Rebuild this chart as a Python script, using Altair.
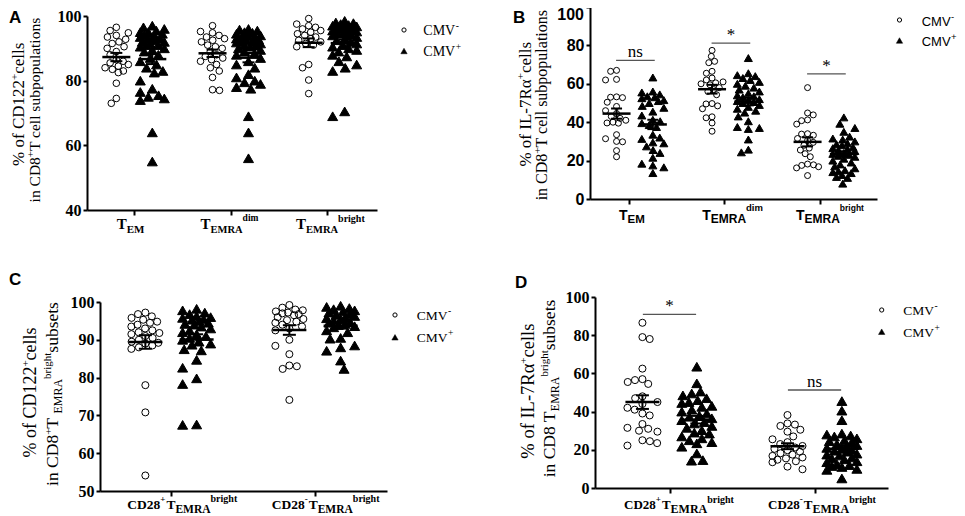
import math
import altair as alt
import pandas as pd

# ------------------------------------------------------------------ data
CMV = ["CMV⁻", "CMV⁺"]

# Panel A: % of CD122+ cells in CD8+ T cell subpopulations (T_EM, T_EMRA dim, T_EMRA bright)
A_TEM_NEG = [96.5, 95.5, 94.8, 94, 93.5, 92.8, 92, 91.5, 90.5, 90, 89, 88, 86.5, 86, 85.5, 85, 84.5, 84, 83.5, 83, 82.5, 79.2, 74.5, 73]
A_TEM_POS = [97, 96.5, 96, 95.5, 95, 95, 94.5, 94, 94, 93.5, 93, 93, 92.5, 92, 92, 91.5, 91, 91, 90.5, 90, 89.5, 89, 88, 87, 86, 85, 84, 83, 82.5, 80, 77.5, 76.5, 75.5, 75, 74.5, 74, 64, 55]
A_DIM_NEG = [97, 95.2, 94.8, 94, 93.5, 93, 92.5, 92, 91, 90.5, 90, 89, 88, 87.5, 87, 86.5, 86, 85, 84, 83, 81, 77.2, 77]
A_DIM_POS = [96, 95.8, 95.5, 95, 94.8, 94.5, 94, 93.8, 93.5, 93.2, 93, 92.8, 92.5, 92.2, 92, 91.8, 91.5, 91, 90.8, 90.5, 90, 89.5, 89, 88.5, 88, 87, 86, 85, 84, 82, 81, 80, 79.5, 79, 78, 77.5, 69, 64, 56]
A_BRI_NEG = [99.2, 97.5, 97, 96.5, 96, 95.5, 95, 94.5, 94, 93.5, 93, 92.5, 92, 91.5, 91, 90.5, 85, 84, 80.2, 76]
A_BRI_POS = [98.5, 98, 97.8, 97.5, 97.2, 97, 96.8, 96.6, 96.5, 96.2, 96, 95.8, 95.5, 95.2, 95, 94.5, 94.2, 94, 93.5, 93, 92.5, 92, 91.5, 91, 90.5, 90, 89.5, 89, 88, 87.5, 86, 85, 84, 83, 70.5, 69]
A_YTICKS = [40, 60, 80, 100]

# Panel B: % of IL-7Ra+ cells in CD8+ T cell subpopulations
B_TEM_NEG = [67, 66.5, 62.3, 62, 53.2, 53, 52.8, 50.4, 48.2, 46, 44.5, 43, 42, 41, 40, 39.6, 39.5, 33.5, 31.4, 30, 29.8, 25.2, 22]
B_TEM_POS = [63.3, 56, 55.5, 54.5, 53.5, 53, 52.5, 51.5, 51, 50, 48.5, 47.5, 45.5, 43.5, 41.3, 40.5, 39.5, 38.5, 37.5, 33.5, 32, 31.3, 29.5, 29, 27.4, 25.5, 24, 21.5, 18.4, 17.5, 16.5, 13.5]
B_DIM_NEG = [77.4, 74.3, 71.7, 71, 66.5, 65.5, 63, 62, 61, 60.5, 60, 59.5, 58, 57, 56, 54.3, 49.7, 49.5, 48.5, 47, 42.8, 42.3, 39.6, 35.3]
B_DIM_POS = [73.4, 65.5, 64.5, 64, 63, 62, 61, 60, 59, 58, 57, 56, 55, 54, 53.5, 53, 52, 51.5, 51, 50.5, 50, 49, 48, 47, 46, 45, 43, 40.5, 37.5, 37, 36.5, 31, 25.7, 24.3]
B_BRI_NEG = [58, 44.8, 43.8, 41.2, 40.8, 39, 34, 33.8, 33.2, 31.5, 30.5, 29.5, 28, 26.5, 25.5, 23.6, 22, 18.2, 17.8, 17.5, 16.8, 16.2, 12.2]
B_BRI_POS = [42.5, 39.2, 37, 35, 32.5, 31.5, 31, 30, 29, 28.5, 28, 27, 26.5, 26, 25.5, 25, 24, 23.5, 23, 22.5, 22, 21, 20, 19, 18, 17, 16, 15, 14.5, 14, 13.5, 12.5, 11.5, 11, 8]
B_YTICKS = [0, 20, 40, 60, 80, 100]
B_SIG_LEVEL = [72.2, 81.2, 65.2]
B_SIG_TEXT = ["ns", "*", "*"]

# Panel C: % of CD122+ cells in CD8+ T_EMRA bright subsets (CD28+, CD28-)
C_P_NEG = [97.2, 96.8, 96.2, 95.8, 95.3, 94.8, 94.5, 94, 93.5, 93, 92.5, 92, 91.8, 91.5, 91, 90.5, 90, 89.5, 89.2, 89, 88.5, 88, 87.6, 78, 70.8, 54.1]
C_P_POS = [98.2, 97.8, 97.2, 96.8, 96.3, 96, 95.8, 95.5, 95.3, 95, 94.5, 94.2, 94, 93.5, 93, 92.5, 92, 91.5, 91, 90.5, 90, 89.5, 89, 88.7, 87.5, 87.2, 84.7, 82.6, 79.8, 78.3, 67.6, 67.5]
C_M_NEG = [99.2, 98.5, 98, 97.8, 97.5, 97.2, 97, 96.8, 96.5, 96, 95.5, 95.2, 94.8, 94.5, 94, 93.5, 93, 92.5, 90, 88.4, 86.2, 83.2, 83, 82.3, 74.1]
C_M_POS = [99, 98.7, 98.4, 98.1, 97.8, 97.5, 97.2, 96.9, 96.6, 96.3, 96, 95.7, 95.4, 95.1, 94.8, 94.5, 94.2, 93.9, 93.6, 93.3, 92.5, 92, 90.5, 90.3, 88.5, 88, 87.1, 84.5, 82.3]
C_YTICKS = [50, 60, 70, 80, 90, 100]

# Panel D: % of IL-7Ra+ cells in CD8 T_EMRA bright subsets
D_P_NEG = [86.5, 79, 78, 62.5, 57, 56.5, 55.5, 54.5, 48, 47, 45, 44, 42, 41, 39, 38, 33.5, 31.5, 31, 30, 29.5, 25, 24.5, 23.5, 22.2]
D_P_POS = [63.5, 54.8, 50.5, 49.5, 48.5, 47, 46, 45, 44.5, 43, 42.5, 41, 40, 39, 38, 37.3, 36.5, 35.5, 34.5, 33.8, 32.5, 31.5, 30.3, 29, 28.5, 27, 26, 25, 24, 23.4, 21.6, 18.1, 14.6, 14.3]
D_M_NEG = [38.2, 33.8, 33.2, 32.5, 30.5, 29.5, 27, 25.5, 24, 23, 22, 21.2, 20.5, 19.8, 19, 18.2, 17.5, 16.8, 16, 15.5, 14.8, 14, 13.5, 11.2, 9.8]
D_M_POS = [45.5, 40.5, 35.5, 28.5, 28, 27.5, 27, 26, 25, 24.5, 24, 23, 22.5, 22, 21, 20.5, 20, 19.5, 19, 18, 17.5, 17, 16, 15.5, 15, 14, 13.5, 12.5, 12, 11.5, 11, 10, 9.5, 5]
D_YTICKS = [0, 20, 40, 60, 80, 100]
D_SIG_LEVEL = [90.9, 51.3]
D_SIG_TEXT = ["*", "ns"]

# ------------------------------------------------------------------ fonts / text helpers
SERIF = "Liberation Serif"
SANS = "Liberation Sans"
FONTSPEC = {"r": (SERIF, "normal"), "b": (SERIF, "bold"), "sb": (SANS, "bold"), "sr": (SANS, "normal")}
WID = {
    "r": {' ': 250, '%': 833, 'o': 500, 'f': 333, 'C': 667, 'D': 722, '1': 500, '2': 500, '8': 500, '7': 500,
          '+': 564, '-': 333, 'c': 444, 'e': 444, 'l': 278, 's': 389, 'i': 278, 'n': 500, 'T': 611, 'E': 611,
          'M': 889, 'R': 667, 'A': 722, 'b': 500, 'r': 333, 'g': 500, 'h': 500, 't': 278, 'u': 500, 'p': 500,
          'a': 444, 'I': 333, 'L': 611, 'V': 722, 'α': 520},
    "b": {' ': 250, 'C': 722, 'D': 722, '2': 500, '8': 500, '+': 570, '-': 333, 'T': 667, 'E': 667, 'M': 944,
          'R': 722, 'A': 722, 'b': 556, 'r': 444, 'i': 278, 'g': 500, 'h': 556, 't': 333, 'd': 556, 'm': 833},
    "sb": {' ': 278, 'T': 611, 'E': 667, 'M': 833, 'R': 722, 'A': 722, 'd': 611, 'i': 278, 'm': 889, 'b': 611,
           'r': 389, 'g': 611, 'h': 611, 't': 333},
    "sr": {'C': 722, 'M': 833, 'V': 667, '+': 584, '-': 333},
}

OX, OY = 8, 8          # page margin: view origin on the page
VW, VH = 949, 508      # whole drawing area


def tw(s, fk, size):
    return sum(WID[fk].get(c, 500) for c in s) * size / 1000.0


ONE = pd.DataFrame({"k": [0]})


def swarm(vals, ppu, d, cap):
    order = sorted(range(len(vals)), key=lambda i: -vals[i])
    placed = []
    out = [0.0] * len(vals)
    for n, i in enumerate(order):
        y = vals[i] * ppu
        near = [(px, py) for px, py in placed if abs(py - y) < d]
        cands = [0.0]
        for px, py in near:
            dx = math.sqrt(max(d * d - (py - y) ** 2, 0))
            cands += [px + dx, px - dx]
        sgn = 1 if n % 2 else -1
        cands = sorted(set(round(c, 3) for c in cands), key=lambda c: (abs(c), sgn * c))
        best = None
        for c in cands:
            if abs(c) > cap:
                continue
            if all((c - px) ** 2 + (y - py) ** 2 >= d * d - 1e-3 for px, py in near):
                best = c
                break
        if best is None:
            grid = [cap * k / 6.0 for k in range(-6, 7)]
            best = max(grid, key=lambda c: min([(c - px) ** 2 + (y - py) ** 2 for px, py in near] or [1e9]))
        placed.append((best, y))
        out[i] = best
    return out


def text_piece(text, fk, size, x, y, angle=0):
    fam, wt = FONTSPEC[fk]
    kw = dict(text=text, font=fam, fontWeight=wt, fontSize=size, align="left", baseline="alphabetic",
              color="black")
    if angle:
        kw["angle"] = angle
    return alt.Chart(ONE).mark_text(**kw).encode(x=alt.value(x), y=alt.value(y))


def panel(P):
    left, top, right, bottom = P["box"]
    vl, vt, vr, vb = left - OX, top - OY, right - OX, bottom - OY
    rows = []
    ppu = (bottom - top) / (P["ydom"][1] - P["ydom"][0])
    for gi, pair in enumerate(P["series"]):
        for si, vals in enumerate(pair):
            xc = gi + P["side"][si]
            offs = swarm(vals, ppu, P["dia"][si], P["cap"])
            for v, o in zip(vals, offs):
                rows.append({"xc": xc, "x": xc + o / P["spacing"], "v": v, "g": CMV[si]})
    df = pd.DataFrame(rows)
    ng = len(P["series"])
    xs = alt.Scale(domain=P["xdom"], range=[vl, vr], nice=False, zero=False)
    ys = alt.Scale(domain=P["ydom"], range=[vb, vt], nice=False, zero=False)
    xax = alt.Axis(orient="bottom", offset=vb - VH, values=list(range(ng)), labels=False, ticks=True,
                   tickSize=5, tickWidth=2, tickColor="black", domainWidth=2, domainColor="black", grid=False,
                   title=None)
    yfam, ywt = FONTSPEC[P["yfont"]]
    yax_kw = dict(orient="left", offset=-vl, values=P["yticks"], format="d", labelFont=yfam,
                  labelFontWeight=ywt, labelFontSize=16, labelColor="black", tickSize=4, tickWidth=2,
                  tickColor="black", domainWidth=2, domainColor="black", labelPadding=2, grid=False, title=None)
    if P.get("toplabel_dy"):
        yax_kw["labelExpr"] = "datum.value == %d ? '' : datum.label" % P["ydom"][1]
    yax = alt.Axis(**yax_kw)

    def X(f):
        return alt.X(f, scale=xs, axis=xax)

    def Y(f):
        return alt.Y(f, scale=ys, axis=yax)

    layers = []
    pts = alt.Chart(df).mark_point(opacity=1, stroke="black", strokeWidth=1).encode(
        x=X("x:Q"), y=Y("v:Q"),
        shape=alt.Shape("g:N", scale=alt.Scale(domain=CMV, range=["circle", "triangle-up"]), legend=None),
        fill=alt.Fill("g:N", scale=alt.Scale(domain=CMV, range=["transparent", "black"]), legend=None),
        size=alt.Size("g:N", scale=alt.Scale(domain=CMV, range=P["msize"]), legend=None),
    )
    layers.append(pts)
    st = alt.Chart(df).transform_aggregate(m="mean(v)", se="stderr(v)", groupby=["xc"]).transform_calculate(
        lo="datum.m - datum.se", hi="datum.m + datum.se")
    layers.append(st.mark_rule(color="black", strokeWidth=2).encode(x=X("xc:Q"), y=Y("lo:Q"), y2="hi:Q"))
    for f in ("lo:Q", "hi:Q"):
        layers.append(st.mark_tick(orient="horizontal", color="black", size=P["capw"], thickness=2,
                                   opacity=1).encode(x=X("xc:Q"), y=Y(f)))
    layers.append(st.mark_tick(orient="horizontal", color="black", size=P["meanw"], thickness=2.5,
                               opacity=1).encode(x=X("xc:Q"), y=Y("m:Q")))
    # top y label drawn nudged inside the page
    if P.get("toplabel_dy"):
        layers.append(alt.Chart(pd.DataFrame({"v": [P["ydom"][1]]})).mark_text(
            font=yfam, fontWeight=ywt, fontSize=16, align="right", baseline="middle", color="black",
            dy=P["toplabel_dy"]).encode(x=alt.value(vl - 6), y=Y("v:Q"), text=alt.Text("v:Q", format="d")))
    # significance bars
    if P.get("sig"):
        levels, texts, o1, o2 = P["sig"]
        sdf = pd.DataFrame({"x1": [g + o1 for g in range(len(levels))],
                            "x2": [g + o2 for g in range(len(levels))],
                            "xm": [g + (o1 + o2) / 2 for g in range(len(levels))],
                            "lev": levels, "lab": texts})
        layers.append(alt.Chart(sdf).mark_rule(color="#555555", strokeWidth=1.3).encode(
            x=X("x1:Q"), x2="x2:Q", y=Y("lev:Q")))
        layers.append(alt.Chart(sdf).mark_text(font=SERIF, fontSize=17, color="black", baseline="alphabetic",
                                               dy=-3).encode(x=X("xm:Q"), y=Y("lev:Q"), text="lab:N"))
    # x-axis labels with sub/superscripts
    base_y = vb + P["xlab_base"]
    for gi, (start, pieces) in enumerate(P["xlab"]):
        adv = start
        for text, fk, size, shift in pieces:
            fam, wt = FONTSPEC[fk]
            layers.append(alt.Chart(pd.DataFrame({"t": [gi]})).mark_text(
                text=text, font=fam, fontWeight=wt, fontSize=size, align="left", baseline="alphabetic",
                dx=adv, color="black").encode(x=X("t:Q"), y=alt.value(base_y - shift)))
            adv += tw(text, fk, size)
    # rotated y title lines
    for bx, cy, pieces in P["ytitle"]:
        total = sum(tw(t, fk, s) for t, fk, s, _ in pieces)
        y0 = cy - OY + total / 2
        adv = 0.0
        for text, fk, size, shift in pieces:
            layers.append(text_piece(text, fk, size, bx - OX - shift, y0 - adv, angle=270))
            adv += tw(text, fk, size)
    # legend (symbol + label with superscript sign)
    lcx, lcy, pitch, lx, lfk, lfs, bdy = P["legend"]
    layers.append(alt.Chart(ONE).mark_point(shape="circle", size=18, stroke="black", strokeWidth=1,
                                            fill="transparent", opacity=1).encode(
        x=alt.value(lcx - OX), y=alt.value(lcy - OY)))
    layers.append(alt.Chart(ONE).mark_point(shape="triangle-up", size=40, stroke="black", strokeWidth=0.5,
                                            fill="black", opacity=1).encode(
        x=alt.value(lcx - OX), y=alt.value(lcy + pitch - OY)))
    for k, sign in enumerate(["-", "+"]):
        yb = lcy + k * pitch + bdy - OY
        layers.append(text_piece("CMV", lfk, lfs, lx - OX, yb))
        layers.append(text_piece(sign, lfk, 9.5, lx - OX + tw("CMV", lfk, lfs) + 0.5, yb - 6))
    # panel letter
    let, lxp, lyp = P["letter"]
    layers.append(alt.Chart(ONE).mark_text(text=let, font=SANS, fontWeight="bold", fontSize=17, align="left",
                                           baseline="alphabetic", color="black").encode(
        x=alt.value(max(lxp - OX, 1)), y=alt.value(max(lyp - OY, 13))))
    return alt.layer(*layers)


def sup(t, fk="r", size=11):
    return (t, fk, size, 6.5)


def line_cd122(s):
    return [("% of CD122", "r", s, 0), sup("+"), ("  cells", "r", s, 0)]


def line_il7(s):
    return [("% of IL-7R", "r", s, 0), ("α", "r", s, 0), sup("+"), ("  cells", "r", s, 0)]


def line_sub(s):
    return [("in CD8", "r", s, 0), sup("+"), (" T cell subpopulations", "r", s, 0)]


A1, A2 = line_cd122(17), line_sub(15.5)
B1, B2 = line_il7(17), line_sub(16)
C1 = line_cd122(18)
C2 = [("in CD8", "r", 17.5, 0), sup("+"), (" T", "r", 17.5, 0), ("EMRA", "r", 12, -4),
      ("bright", "r", 11, 7), ("subsets", "r", 17.5, 0)]
D1 = line_il7(18.5)
D2 = [("in CD8 T", "r", 17.5, 0), ("EMRA", "r", 12, -4), ("bright", "r", 11, 7), ("subsets", "r", 17.5, 0)]


def cd28(sign, s1, s2, s3, sh3):
    return [("CD28", "b", s1, 0), (sign, "b", 9, 7), (" ", "b", 4, 0), ("T", "b", s1, 0), ("EMRA", "b", s2, -4),
            ("bright", "b", s3, sh3)]


PA = dict(box=(87, 16, 377, 210), xdom=[-0.492, 2.523], spacing=96.2, side=[-0.187, 0.187],
          ydom=[40, 100], yticks=A_YTICKS, yfont="b", msize=[44, 100], dia=[7, 9], cap=12, meanw=28, capw=12,
          series=[(A_TEM_NEG, A_TEM_POS), (A_DIM_NEG, A_DIM_POS), (A_BRI_NEG, A_BRI_POS)],
          legend=(404, 30, 21, 423.3, "r", 14, 5),
          xlab_base=19,
          xlab=[(-17.6, [("T", "b", 15, 0), ("EM", "b", 11, -4)]),
                (-30, [("T", "b", 15, 0), ("EMRA", "b", 10.5, -4), ("dim", "b", 9.5, 8)]),
                (-30.7, [("T", "b", 15, 0), ("EMRA", "b", 10.5, -4), ("bright", "b", 10, 7.5)])],
          ytitle=[(24, 100, A1), (40, 108, A2)], letter=("A", 3, 23))
PB = dict(box=(590, 7, 877, 199), xdom=[-0.408, 2.597], spacing=95.5, side=[-0.13, 0.25],
          ydom=[0, 100], yticks=B_YTICKS, yfont="sb", msize=[36, 64], dia=[6, 7.5], cap=11, meanw=28, capw=11,
          series=[(B_TEM_NEG, B_TEM_POS), (B_DIM_NEG, B_DIM_POS), (B_BRI_NEG, B_BRI_POS)],
          legend=(899.5, 20, 20.5, 921.7, "sr", 13, 5.7), toplabel_dy=8,
          sig=(B_SIG_LEVEL, B_SIG_TEXT, -0.135, 0.27),
          xlab_base=20.7,
          xlab=[(-10, [("T", "sb", 14, 0), ("EM", "sb", 11.5, -3)]),
                (-22.3, [("T", "sb", 14, 0), ("EMRA", "sb", 12, -3), ("dim", "sb", 9.5, 8.7)]),
                (-24, [("T", "sb", 14, 0), ("EMRA", "sb", 12, -3), ("bright", "sb", 8.5, 9)])],
          ytitle=[(530.5, 100, B1), (547, 103, B2)], letter=("B", 513, 23))
PC = dict(box=(100, 302, 387, 491), xdom=[-0.493, 1.5], spacing=144, side=[-0.178, 0.178],
          ydom=[50, 100], yticks=C_YTICKS, yfont="b", msize=[50, 100], dia=[7.5, 9], cap=14, meanw=34, capw=13,
          series=[(C_P_NEG, C_P_POS), (C_M_NEG, C_M_POS)],
          legend=(395, 315, 22.3, 416.7, "r", 13.5, 5),
          xlab_base=18.3,
          xlab=[(-43.7, cd28("+", 13.5, 11.5, 10, 7.3)), (-43.3, cd28("-", 13.5, 11.5, 10, 7.3))],
          ytitle=[(35.5, 388, C1), (58, 394, C2)], letter=("C", 3, 285))
PD = dict(box=(595, 297, 888, 488), xdom=[-0.517, 1.503], spacing=145, side=[-0.19, 0.185],
          ydom=[0, 100], yticks=D_YTICKS, yfont="b", msize=[50, 100], dia=[7.5, 9], cap=15, meanw=34, capw=13,
          series=[(D_P_NEG, D_P_POS), (D_M_NEG, D_M_POS)],
          legend=(881.7, 310, 21.7, 903.3, "r", 13.5, 5),
          sig=(D_SIG_LEVEL, D_SIG_TEXT, -0.187, 0.18),
          xlab_base=21.3,
          xlab=[(-46, cd28("+", 13, 12, 10, 6.5)), (-47, cd28("-", 13, 12, 10, 6.5))],
          ytitle=[(533.5, 386.5, D1), (555, 388.5, D2)], letter=("D", 515, 288))

chart = alt.layer(panel(PA), panel(PB), panel(PC), panel(PD)).resolve_scale(
    x="independent", y="independent", shape="independent", fill="independent", size="independent"
).resolve_axis(x="independent", y="independent").properties(
    width=VW, height=VH, padding=0, background="white",
    autosize=alt.AutoSizeParams(type="none", contains="padding"),
).configure_view(stroke=None)

chart.save("out.html", embed_options={"renderer": "svg", "actions": False})
